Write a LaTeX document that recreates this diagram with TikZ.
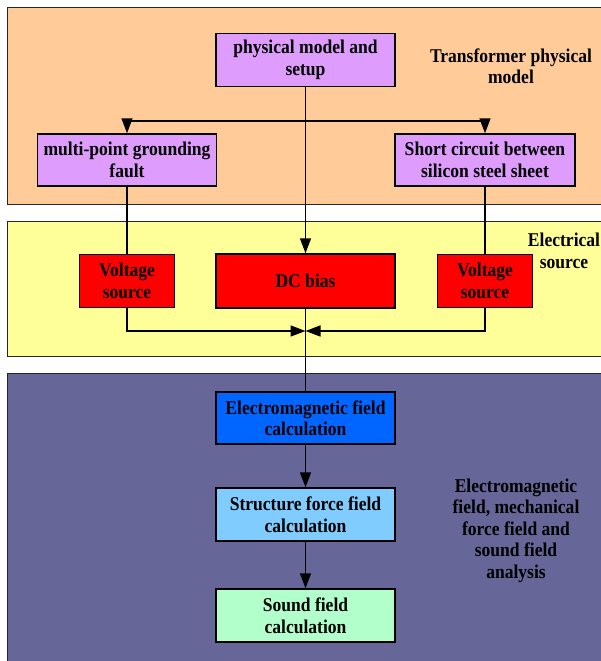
\documentclass[tikz,border=0pt]{standalone}
\usepackage{fontspec}
\setmainfont[FakeStretch=0.9]{Liberation Serif}
\usetikzlibrary{arrows.meta}
\definecolor{panelor}{RGB}{255,204,153}
\definecolor{panelye}{RGB}{255,255,153}
\definecolor{panelpu}{RGB}{102,102,153}
\definecolor{boxlil}{RGB}{222,156,252}
\definecolor{boxred}{RGB}{255,0,0}
\definecolor{boxblue}{RGB}{0,102,255}
\definecolor{boxsky}{RGB}{128,204,255}
\definecolor{boxmint}{RGB}{179,255,204}
\tikzset{
  txt/.style={font=\fontsize{19.5}{21.5}\selectfont\bfseries, align=center, inner sep=0pt},
  box/.style={txt, draw=black, line width=1.5pt, minimum width=179pt, minimum height=53pt},
  vbox/.style={box, minimum width=95pt},
  panel/.style={draw=black!85, line width=1pt},
  conn/.style={line width=1.5pt, draw=black},
  arr/.style={conn, -{Triangle[length=15pt,width=11pt]}},
}
\begin{document}
\begin{tikzpicture}[x=1pt,y=-1pt]
\useasboundingbox (0,0) rectangle (600,661);
\fill[white] (0,0) rectangle (600,661);
% panels
\filldraw[panel, fill=panelor] (7,8) rectangle (615,204);
\filldraw[panel, fill=panelye] (7,221) rectangle (615,356);
\filldraw[panel, fill=panelpu] (7,373) rectangle (615,680);
% panel labels
\node[txt] (lab1) at (511,66) {Transformer physical\\model};
\node[txt] (lab2) at (564,251) {Electrical\\source};
\node[txt] (lab3) at (516,530.5) {Electromagnetic\\field, mechanical\\force field and\\sound field\\analysis};
% boxes
\node[box, fill=boxlil] (phys) at (305.5,60) {physical model and\\setup};
\node[box, fill=boxlil, minimum height=52pt] (multi) at (127,160) {multi-point grounding\\fault};
\node[box, fill=boxlil, minimum width=180pt, minimum height=52pt] (short) at (485,160) {Short circuit between\\silicon steel sheet};
\node[vbox, fill=boxred] (vl) at (127,281) {Voltage\\source};
\node[box, fill=boxred, minimum height=54pt] (dc) at (305.5,281) {DC bias};
\node[vbox, fill=boxred] (vr) at (485,281) {Voltage\\source};
\node[box, fill=boxblue, minimum height=52pt] (em) at (305.5,418) {Electromagnetic field\\calculation};
\node[box, fill=boxsky] (sf) at (305.5,514.5) {Structure force field\\calculation};
\node[box, fill=boxmint] (snd) at (305.5,615.5) {Sound field\\calculation};
% junctions
\coordinate (jtop) at (305.5,121);
\coordinate (jbot) at (305.5,331);
% connectors
\draw[arr] (phys.south) -- (dc.north);
\draw[arr] (jtop) -| (multi.north);
\draw[arr] (jtop) -| (short.north);
\draw[conn] (multi.south) -- (vl.north);
\draw[conn] (short.south) -- (vr.north);
\draw[arr] (vl.south) |- (jbot);
\draw[arr] (vr.south) |- (jbot);
\draw[conn] (dc.south) -- (em.north);
\draw[arr] (em.south) -- (sf.north);
\draw[arr] (sf.south) -- (snd.north);
\end{tikzpicture}
\end{document}
